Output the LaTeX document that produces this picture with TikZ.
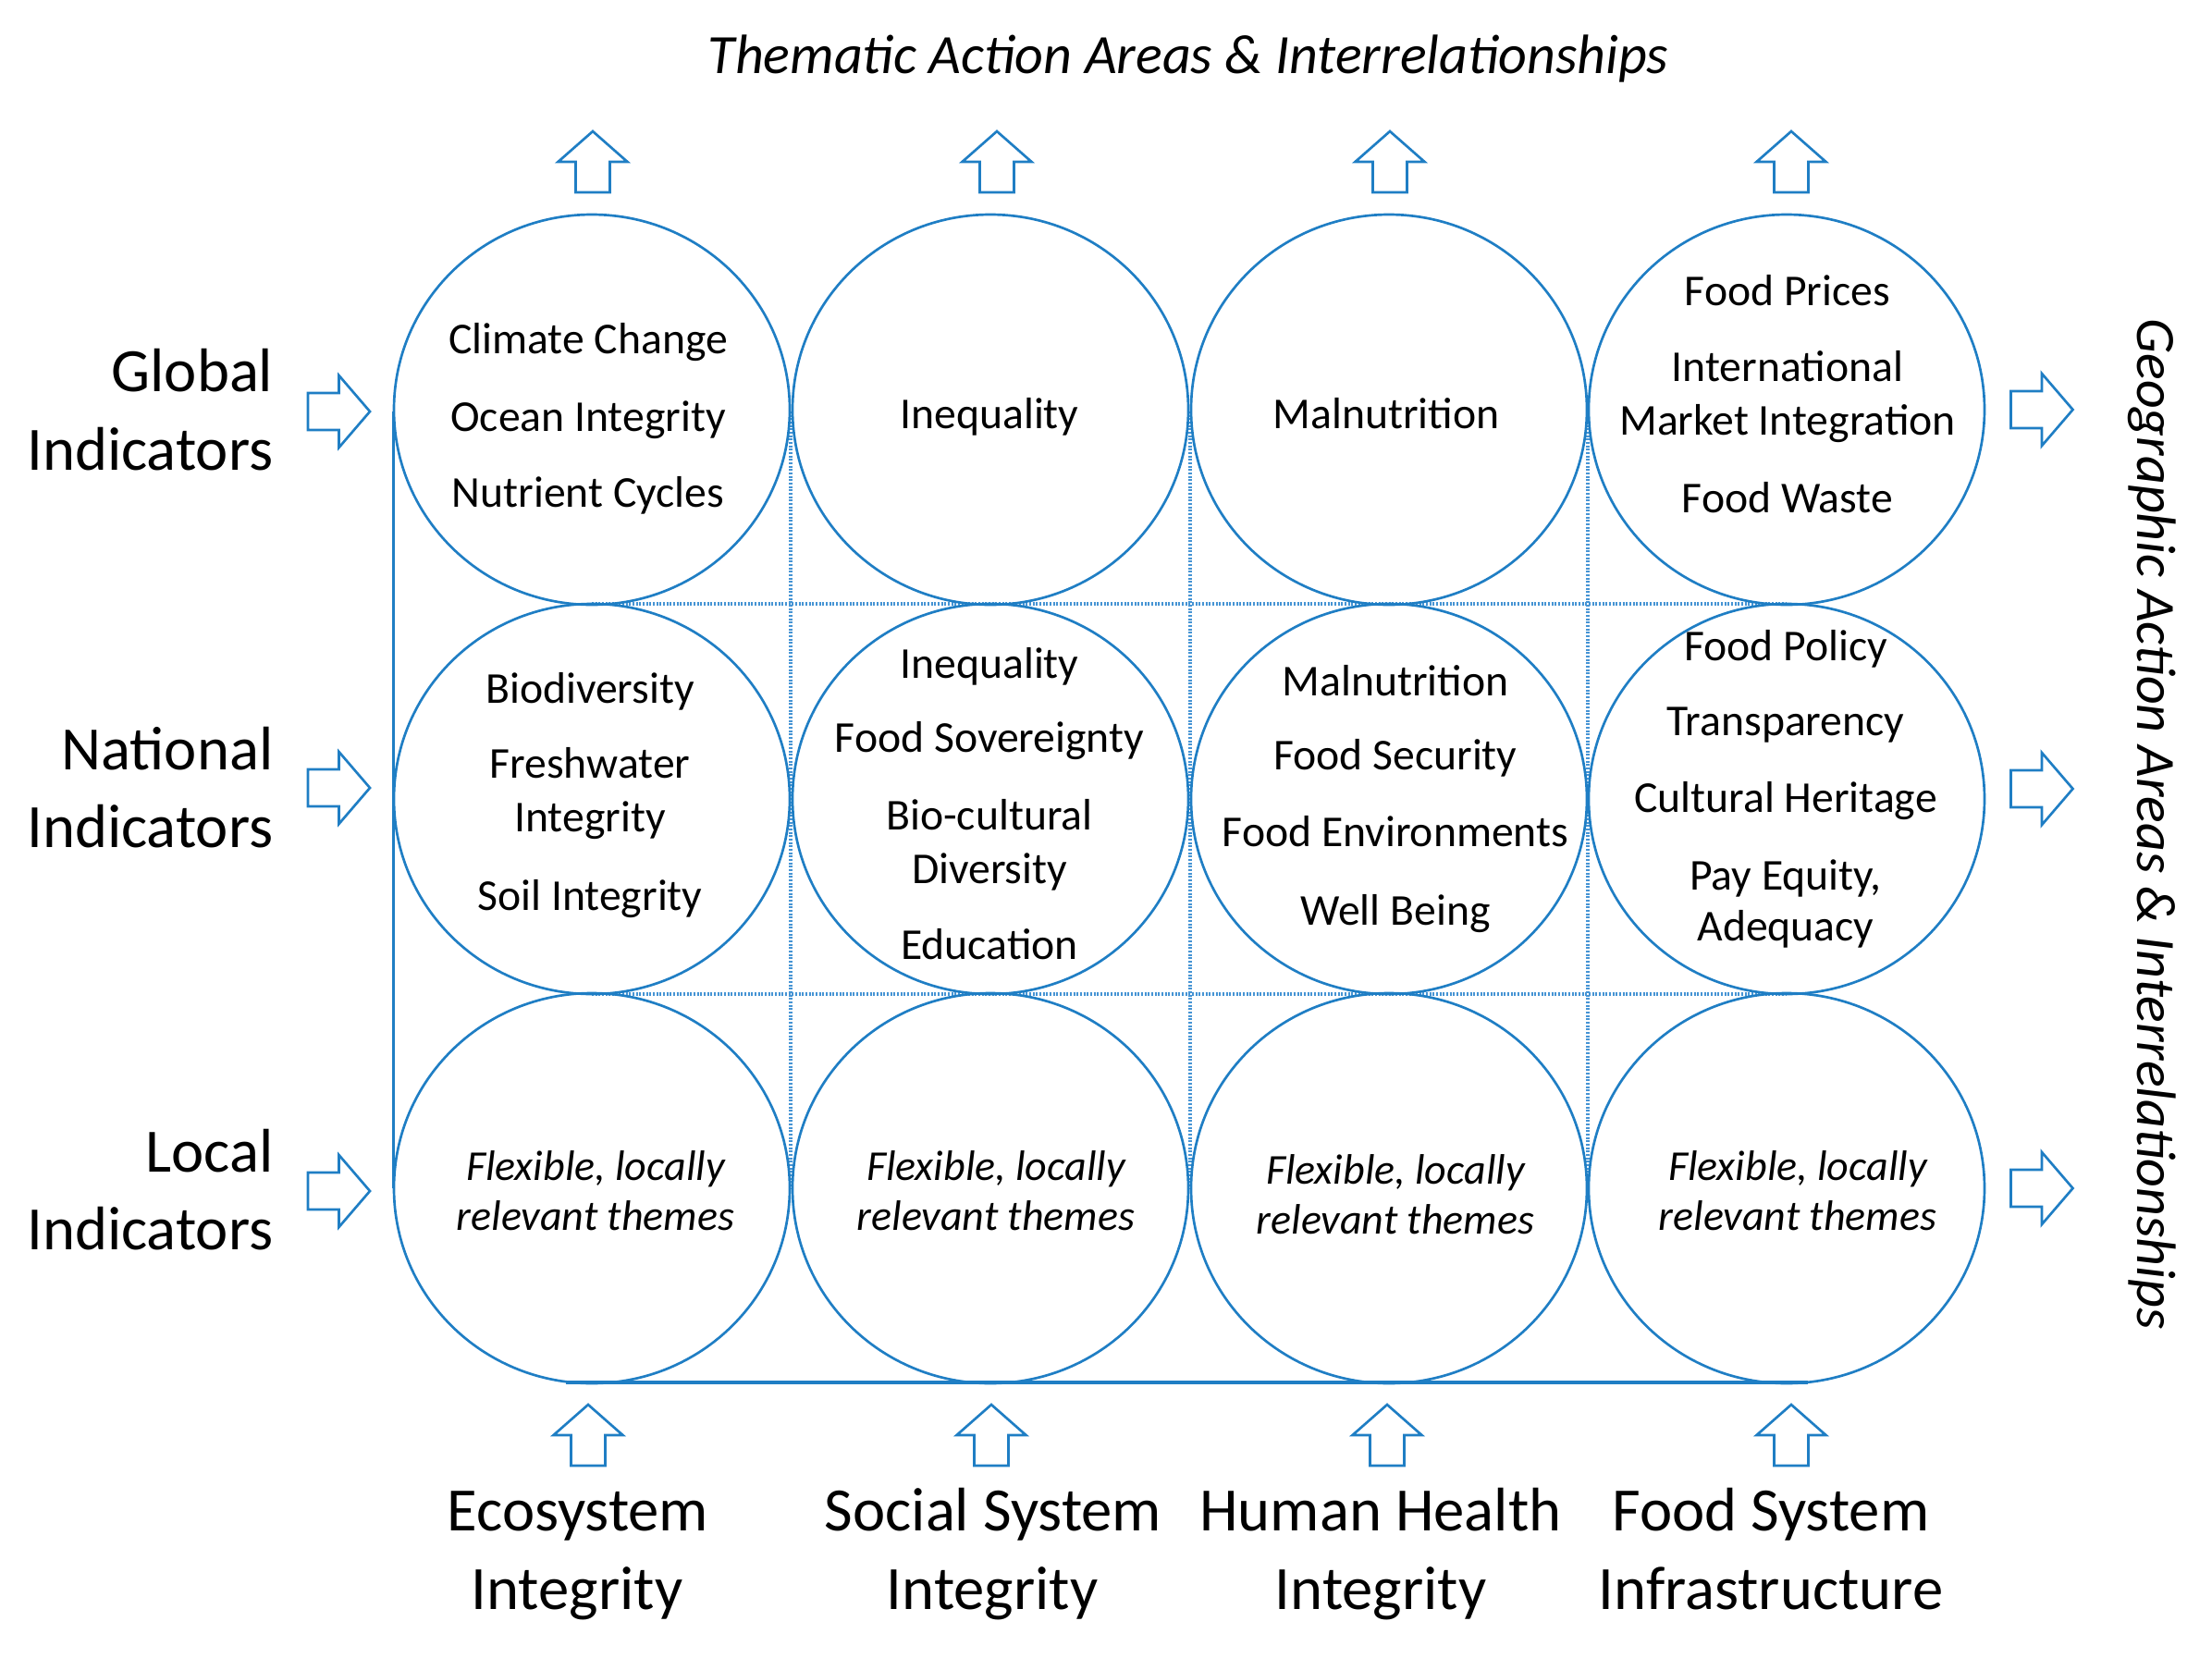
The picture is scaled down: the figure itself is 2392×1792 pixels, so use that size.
\documentclass[tikz,border=0pt]{standalone}
\usepackage{fontspec}
\setmainfont{Carlito}
\usetikzlibrary{shapes.geometric}
\definecolor{lineblue}{RGB}{31,126,196}
\definecolor{dotblue}{RGB}{70,148,212}
\tikzset{
  uparrow/.pic={\draw[blockarrow] (-18.5,33) -- (-18.5,0) -- (-37.5,0) -- (0,-33) -- (37.5,0) -- (18.5,0) -- (18.5,33) -- cycle;},
  rightarrow/.pic={\draw[blockarrow] (-33.5,-20) -- (0,-20) -- (0,-39) -- (33.5,0) -- (0,39) -- (0,20) -- (-33.5,20) -- cycle;},
  blockarrow/.style={draw=lineblue, line width=0.8pt, line join=miter},
}
\begin{document}
\begin{tikzpicture}[x=0.3pt,y=-0.3pt,
  bubble/.style={ellipse, draw=lineblue, line width=0.8pt, minimum width=128.4pt, minimum height=126.6pt, inner sep=0pt},
  ctext/.style={anchor=base, inner sep=0pt, font=\fontsize{14.3}{17}\selectfont},
  ftext/.style={anchor=base, inner sep=0pt, font=\fontsize{13.8}{17}\selectfont\itshape},
  biglabel/.style={anchor=base, inner sep=0pt, font=\fontsize{20}{24}\selectfont},
  rowlabel/.style={biglabel, anchor=base east},
  titletext/.style={inner sep=0pt, font=\fontsize{18}{22}\selectfont\itshape},
  gridsolid/.style={draw=lineblue, line width=0.9pt},
  griddot/.style={draw=dotblue, line width=1pt, dash pattern=on 0.6pt off 0.5pt},
]
\useasboundingbox (0,0) rectangle (2392,1792);

% grid lines
\draw[griddot] (855,445) -- (855,1285);
\draw[griddot] (1287,445) -- (1287,1285);
\draw[griddot] (1717,445) -- (1717,1285);
\draw[griddot] (640,653) -- (1932,653);
\draw[griddot] (640,1075) -- (1932,1075);
\draw[gridsolid] (425,445) -- (425,1285);
\draw[gridsolid, line width=1.1pt] (612,1495) -- (1955,1495);

% circles
\node[bubble] (c11) at (640,443) {};
\node[bubble] (c12) at (1071,443) {};
\node[bubble] (c13) at (1502,443) {};
\node[bubble] (c14) at (1932,443) {};
\node[bubble] (c21) at (640,864) {};
\node[bubble] (c22) at (1071,864) {};
\node[bubble] (c23) at (1502,864) {};
\node[bubble] (c24) at (1932,864) {};
\node[bubble] (c31) at (640,1285) {};
\node[bubble] (c32) at (1071,1285) {};
\node[bubble] (c33) at (1502,1285) {};
\node[bubble] (c34) at (1932,1285) {};

% circle texts row 1
\node[ctext] (t11a) at (636,382) {Climate Change};
\node[ctext] (t11b) at (636,466) {Ocean Integrity};
\node[ctext] (t11c) at (636,548) {Nutrient Cycles};
\node[ctext] (t12a) at (1070,463) {Inequality};
\node[ctext] (t13a) at (1499,463) {Malnutrition};
\node[ctext] (t14a) at (1933,330) {Food Prices};
\node[ctext] (t14b) at (1933,412) {International};
\node[ctext] (t14c) at (1933,470) {Market Integration};
\node[ctext] (t14d) at (1933,554) {Food Waste};
% row 2
\node[ctext] (t21a) at (638,760) {Biodiversity};
\node[ctext] (t21b) at (638,841) {Freshwater};
\node[ctext] (t21c) at (638,899) {Integrity};
\node[ctext] (t21d) at (638,984) {Soil Integrity};
\node[ctext] (t22a) at (1070,733) {Inequality};
\node[ctext] (t22b) at (1070,813) {Food Sovereignty};
\node[ctext] (t22c) at (1070,897) {Bio-cultural};
\node[ctext] (t22d) at (1070,955) {Diversity};
\node[ctext] (t22e) at (1070,1037) {Education};
\node[ctext] (t23a) at (1509,752) {Malnutrition};
\node[ctext] (t23b) at (1509,832) {Food Security};
\node[ctext] (t23c) at (1509,915) {Food Environments};
\node[ctext] (t23d) at (1509,1000) {Well Being};
\node[ctext] (t24a) at (1931,714) {Food Policy};
\node[ctext] (t24b) at (1931,795) {Transparency};
\node[ctext] (t24c) at (1931,878) {Cultural Heritage};
\node[ctext] (t24d) at (1931,962) {Pay Equity,};
\node[ctext] (t24e) at (1931,1017) {Adequacy};
% row 3
\node[ftext] (t31a) at (644,1276) {Flexible, locally};
\node[ftext] (t31b) at (644,1330) {relevant themes};
\node[ftext] (t32a) at (1077,1276) {Flexible, locally};
\node[ftext] (t32b) at (1077,1330) {relevant themes};
\node[ftext] (t33a) at (1509,1280) {Flexible, locally};
\node[ftext] (t33b) at (1509,1334) {relevant themes};
\node[ftext] (t34a) at (1944,1276) {Flexible, locally};
\node[ftext] (t34b) at (1944,1330) {relevant themes};

% row labels
\node[rowlabel] (gl1) at (296,423) {Global};
\node[rowlabel] (gl2) at (296,508) {Indicators};
\node[rowlabel] (nl1) at (296,832) {National};
\node[rowlabel] (nl2) at (296,916) {Indicators};
\node[rowlabel] (ll1) at (296,1267) {Local};
\node[rowlabel] (ll2) at (296,1351) {Indicators};

% column labels
\node[biglabel] (b1a) at (625,1655) {Ecosystem};
\node[biglabel] (b1b) at (624,1740) {Integrity};
\node[biglabel] (b2a) at (1074,1655) {Social System};
\node[biglabel] (b2b) at (1073,1740) {Integrity};
\node[biglabel] (b3a) at (1493,1655) {Human Health};
\node[biglabel] (b3b) at (1493,1740) {Integrity};
\node[biglabel] (b4a) at (1915,1655) {Food System};
\node[biglabel] (b4b) at (1915,1740) {Infrastructure};

% titles
\node[titletext, anchor=base] (ttop) at (1285,79) {Thematic Action Areas \& Interrelationships};
\node[titletext, rotate=-90, anchor=center] (tright) at (2327,891) {Geographic Action Areas \& Interrelationships};

% block arrows
\pic at (641,175) {uparrow};
\pic at (1078,175) {uparrow};
\pic at (1503,175) {uparrow};
\pic at (1937,175) {uparrow};
\pic at (636,1552) {uparrow};
\pic at (1072,1552) {uparrow};
\pic at (1500,1552) {uparrow};
\pic at (1937,1552) {uparrow};
\pic at (366.5,445) {rightarrow};
\pic at (366.5,852) {rightarrow};
\pic at (366.5,1288) {rightarrow};
\pic at (2208,443) {rightarrow};
\pic at (2208,853) {rightarrow};
\pic at (2208,1285) {rightarrow};
\end{tikzpicture}
\end{document}
